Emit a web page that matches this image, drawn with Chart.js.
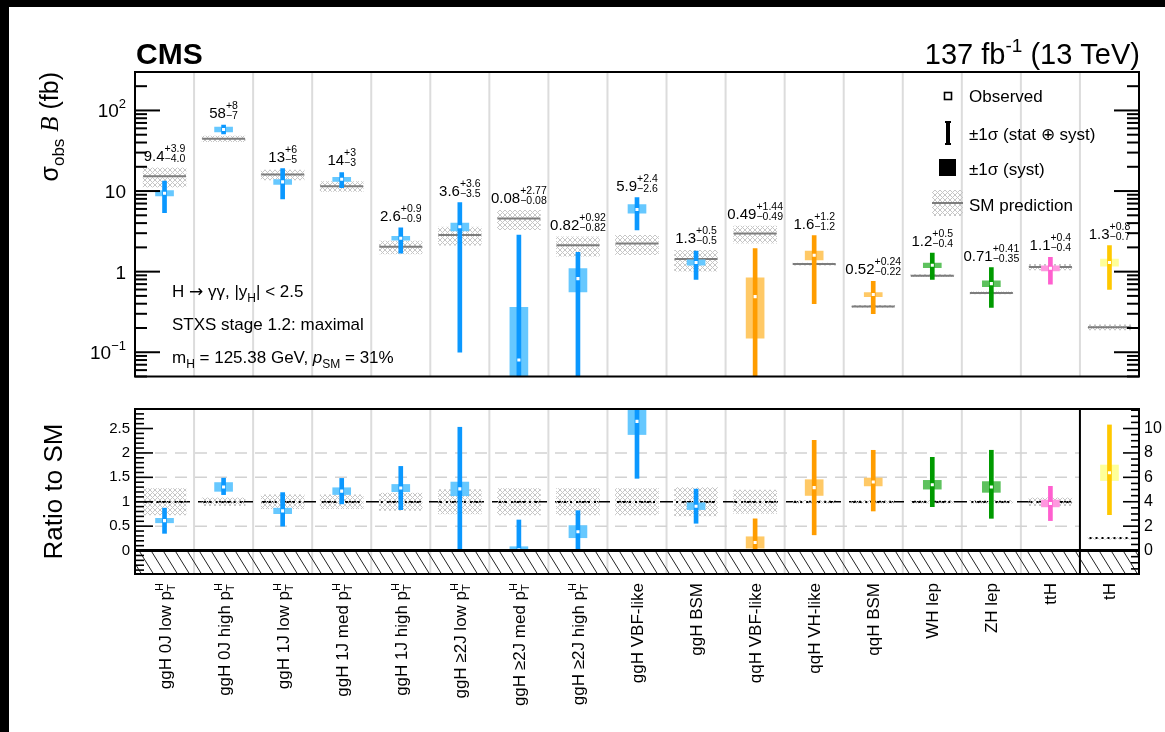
<!DOCTYPE html>
<html>
<head>
<meta charset="utf-8">
<title>H→γγ STXS stage 1.2 cross sections</title>
<script src="https://cdn.jsdelivr.net/npm/chart.js@4.4.1/dist/chart.umd.min.js"></script>
<style>
  html, body { margin: 0; padding: 0; width: 1165px; height: 732px; overflow: hidden; background: #000; }
  #sheet { position: absolute; left: 9px; top: 7px; right: 0; bottom: 0; background: #fff; }
  canvas { position: absolute; left: 0; }
  #xsec { top: 0; }
  #ratio { top: 360px; }
</style>
</head>
<body>
<div id="sheet"></div>
<canvas id="xsec" width="1165" height="400"></canvas>
<canvas id="ratio" width="1165" height="372"></canvas>
<script>
// ---- measured bins -------------------------------------------------------
const categories = [
  'ggH 0J low p_T^H', 'ggH 0J high p_T^H', 'ggH 1J low p_T^H', 'ggH 1J med p_T^H',
  'ggH 1J high p_T^H', 'ggH ≥2J low p_T^H', 'ggH ≥2J med p_T^H', 'ggH ≥2J high p_T^H',
  'ggH VBF-like', 'ggH BSM', 'qqH VBF-like', 'qqH VH-like', 'qqH BSM',
  'WH lep', 'ZH lep', 'ttH', 'tH'
];
const production = ['ggH', 'ggH', 'ggH', 'ggH', 'ggH', 'ggH', 'ggH', 'ggH', 'ggH', 'ggH',
                    'qqH', 'qqH', 'qqH', 'VH', 'VH', 'ttH', 'tH'];
// observed sigma x B (fb) with total and systematic uncertainties
const observed  = [9.4, 58, 13, 14, 2.6, 3.6, 0.08, 0.82, 5.9, 1.3, 0.49, 1.6, 0.52, 1.2, 0.71, 1.1, 1.3];
const totalUp   = [3.9, 8, 6, 3, 0.9, 3.6, 2.77, 0.92, 2.4, 0.5, 1.44, 1.2, 0.24, 0.5, 0.41, 0.4, 0.8];
const totalDown = [4.0, 7, 5, 3, 0.9, 3.5, 0.08, 0.82, 2.6, 0.5, 0.49, 1.2, 0.22, 0.4, 0.35, 0.4, 0.7];
const systUp    = [0.7, 4, 0.9, 0.8, 0.15, 0.4, 0.28, 0.27, 0.9, 0.1, 0.35, 0.2, 0.03, 0.08, 0.06, 0.08, 0.13];
const systDown  = [0.7, 4, 0.9, 0.8, 0.15, 0.4, 0.08, 0.26, 0.6, 0.1, 0.34, 0.2, 0.03, 0.08, 0.06, 0.08, 0.13];
// standard model prediction (fb) and its relative uncertainty
const smPrediction = [15.3, 44.5, 16.0, 11.5, 2.03, 2.85, 4.55, 2.13, 2.23, 1.43, 2.97, 1.24, 0.37, 0.89, 0.545, 1.14, 0.204];
const smRelUnc     = [0.27, 0.08, 0.14, 0.14, 0.18, 0.25, 0.27, 0.27, 0.27, 0.29, 0.24, 0.03, 0.03, 0.03, 0.03, 0.08, 0.07];
// decimals printed in the value labels
const labelDigits = [1, 0, 0, 0, 1, 1, 2, 2, 1, 1, 2, 1, 2, 1, 2, 1, 1];
// axis ticks
const decadeTicks = [0.1, 1, 10, 100];
const ratioTicks = [0, 0.5, 1, 1.5, 2, 2.5];
const ownScaleTicks = [0, 2, 4, 6, 8, 10];
const ratioGridLines = [0.5, 1.5, 2];
// bin shown against its own ratio scale
const ownRatioScale = 'tH';

// ---- style ---------------------------------------------------------------
const SANS = '"Liberation Sans", Arial, Helvetica, sans-serif';
const SERIF = '"Liberation Serif", "Times New Roman", serif';
const font = (size, style) => (style ? style + ' ' : '') + size + 'px ' + SANS;
const palette = {
  ggH: { total: '#0b98ff', syst: '#66c8ff' },
  qqH: { total: '#ff9d00', syst: '#ffc966' },
  VH:  { total: '#009a00', syst: '#5ec25e' },
  ttH: { total: '#ff5fcf', syst: '#ff97df' },
  tH:  { total: '#ffc800', syst: '#ffff99' }
};
const SEP_COLOR = '#dcdcdc';

function makeHatch() {
  const c = document.createElement('canvas');
  c.width = 5; c.height = 5;
  const g = c.getContext('2d');
  g.strokeStyle = '#c6c6c6'; g.lineWidth = 1;
  g.beginPath(); g.moveTo(0, 0); g.lineTo(5, 5); g.moveTo(5, 0); g.lineTo(0, 5); g.stroke();
  return document.createElement('canvas').getContext('2d').createPattern(c, 'repeat');
}
const hatch = makeHatch();

function dottedLine(width) {
  const c = document.createElement('canvas');
  c.width = width; c.height = 2;
  const g = c.getContext('2d');
  g.fillStyle = '#000';
  for (let x = 2; x < width - 1; x += 6) g.fillRect(x, 0, 2, 2);
  return c;
}
const smDots = dottedLine(44);

// ---- rich text helpers ---------------------------------------------------
function runWidth(ctx, r) {
  if (r.stack) return Math.max(...r.stack.map(s => { ctx.font = s.font; return ctx.measureText(s.text).width; }));
  ctx.font = r.font;
  return ctx.measureText(r.text).width;
}
function drawRuns(ctx, runs, x, y, align) {
  const total = runs.reduce((a, r) => a + runWidth(ctx, r), 0);
  let cx = align === 'center' ? x - total / 2 : align === 'right' ? x - total : x;
  ctx.textAlign = 'left';
  ctx.textBaseline = 'alphabetic';
  runs.forEach(r => {
    const w = runWidth(ctx, r);
    (r.stack || [r]).forEach(p => { ctx.font = p.font; ctx.fillText(p.text, cx, y + (p.dy || 0)); });
    cx += w;
  });
  return total;
}
function binEdge(chart, k) {
  const xs = chart.scales.x, a = chart.chartArea, n = categories.length;
  if (k <= 0) return a.left;
  if (k >= n) return a.right;
  return (xs.getPixelForValue(k - 1) + xs.getPixelForValue(k)) / 2;
}
function drawSeparators(chart, ownIdx) {
  const ctx = chart.ctx, a = chart.chartArea;
  ctx.save();
  ctx.strokeStyle = SEP_COLOR; ctx.lineWidth = 2;
  for (let k = 1; k < categories.length; k++) {
    if (k === ownIdx) continue;
    const x = binEdge(chart, k);
    ctx.beginPath(); ctx.moveTo(x, a.top); ctx.lineTo(x, a.bottom); ctx.stroke();
  }
  ctx.restore();
}
function drawFrame(chart) {
  const ctx = chart.ctx, a = chart.chartArea;
  ctx.save();
  ctx.strokeStyle = '#000'; ctx.lineWidth = 2;
  ctx.strokeRect(a.left, a.top, a.right - a.left, a.bottom - a.top);
  ctx.restore();
}
function hTick(ctx, x, y, len) {
  ctx.beginPath(); ctx.moveTo(x, y); ctx.lineTo(x + len, y); ctx.stroke();
}

// ---- upper panel: cross sections ----------------------------------------
const clampLog = v => Math.max(v, 1e-3);
const upperDecor = {
  id: 'upperDecor',
  beforeDatasetsDraw(chart) { drawSeparators(chart, -1); },
  afterDatasetsDraw(chart) {
    const ctx = chart.ctx, a = chart.chartArea, ys = chart.scales.y, xs = chart.scales.x;
    drawFrame(chart);
    // log ticks on both sides
    ctx.save();
    ctx.strokeStyle = '#000'; ctx.lineWidth = 2;
    const lo = ys.min, hi = ys.max;
    for (let e = Math.floor(Math.log10(lo)); e <= Math.ceil(Math.log10(hi)); e++) {
      for (let m = 1; m <= 9; m++) {
        const v = m * Math.pow(10, e);
        if (v < lo * 0.999 || v > hi * 1.001) continue;
        const y = ys.getPixelForValue(v);
        const len = m === 1 ? 25 : 12;
        hTick(ctx, a.left, y, len);
        hTick(ctx, a.right, y, -len);
      }
    }
    ctx.restore();
    // decade labels
    ctx.save();
    ctx.fillStyle = '#000';
    decadeTicks.forEach(v => {
      const e = Math.round(Math.log10(v));
      const y = ys.getPixelForValue(v) + 7;
      const runs = e === 0 ? [{ text: '1', font: font(19) }]
                 : e === 1 ? [{ text: '10', font: font(19) }]
                 : [{ text: '10', font: font(19) }, { text: e < 0 ? '−' + (-e) : String(e), font: font(13), dy: -9 }];
      drawRuns(ctx, runs, a.left - 9, y, 'right');
    });
    ctx.restore();
    // value labels
    ctx.save();
    ctx.fillStyle = '#000';
    categories.forEach((_, i) => {
      const top = Math.max(observed[i] + totalUp[i], smPrediction[i] * (1 + smRelUnc[i]));
      const y = ys.getPixelForValue(top) - 7;
      const d = labelDigits[i];
      drawRuns(ctx, [
        { text: observed[i].toFixed(d), font: font(15) },
        { stack: [
          { text: '+' + totalUp[i].toFixed(d), font: font(10.5), dy: -9 },
          { text: '−' + totalDown[i].toFixed(d), font: font(10.5), dy: 1 }
        ] }
      ], xs.getPixelForValue(i), y, 'center');
    });
    ctx.restore();
  },
  afterDraw(chart) {
    const ctx = chart.ctx, a = chart.chartArea;
    ctx.save();
    ctx.fillStyle = '#000';
    // header
    ctx.font = font(30, 'bold');
    ctx.textAlign = 'left'; ctx.textBaseline = 'alphabetic';
    ctx.fillText('CMS', a.left + 1, 64);
    drawRuns(ctx, [
      { text: '137 fb', font: font(29) },
      { text: '-1', font: font(19), dy: -12 },
      { text: ' (13 TeV)', font: font(29) }
    ], a.right + 1, 64, 'right');
    // analysis description
    drawRuns(ctx, [
      { text: 'H ', font: font(17) }, { text: '→', font: '17px "DejaVu Sans", sans-serif' },
      { text: ' γγ, |y', font: font(17) }, { text: 'H', font: font(12), dy: 5 },
      { text: '| < 2.5', font: font(17) }
    ], 172, 297, 'left');
    drawRuns(ctx, [{ text: 'STXS stage 1.2: maximal', font: font(17) }], 172, 330, 'left');
    drawRuns(ctx, [
      { text: 'm', font: font(17) }, { text: 'H', font: font(12), dy: 5 },
      { text: ' = 125.38 GeV, ', font: font(17) }, { text: 'p', font: font(17, 'italic') },
      { text: 'SM', font: font(12), dy: 5 }, { text: ' = 31%', font: font(17) }
    ], 172, 363, 'left');
    // y title
    ctx.save();
    ctx.translate(58, a.top);
    ctx.rotate(-Math.PI / 2);
    drawRuns(ctx, [
      { text: 'σ', font: font(25) }, { text: 'obs', font: font(17), dy: 6 },
      { text: ' ', font: font(25) }, { text: 'B', font: 'italic 25px ' + SERIF },
      { text: ' (fb)', font: font(25) }
    ], 0, 0, 'right');
    ctx.restore();
    // legend
    const lx = 948, tx = 969;
    ctx.lineWidth = 1.6; ctx.strokeStyle = '#000';
    ctx.fillStyle = '#fff'; ctx.fillRect(lx - 3.5, 92.5, 7, 7);
    ctx.strokeRect(lx - 3.5, 92.5, 7, 7);
    ctx.fillStyle = '#000';
    ctx.fillRect(lx - 2, 122, 4, 23);
    ctx.fillRect(lx - 3, 121, 6, 2); ctx.fillRect(lx - 3, 143, 6, 2);
    ctx.fillRect(lx - 9, 159, 17, 17);
    ctx.fillStyle = hatch; ctx.fillRect(lx - 16, 190, 31, 26);
    ctx.strokeStyle = '#7d7d7d'; ctx.lineWidth = 2;
    ctx.beginPath(); ctx.moveTo(lx - 16, 203); ctx.lineTo(lx + 15, 203); ctx.stroke();
    ctx.fillStyle = '#000';
    drawRuns(ctx, [{ text: 'Observed', font: font(17) }], tx, 102, 'left');
    drawRuns(ctx, [{ text: '±1σ (stat ⊕ syst)', font: font(17) }], tx, 140, 'left');
    drawRuns(ctx, [{ text: '±1σ (syst)', font: font(17) }], tx, 175, 'left');
    drawRuns(ctx, [{ text: 'SM prediction', font: font(17) }], tx, 211, 'left');
    ctx.restore();
  }
};

const boxColor = production.map(p => palette[p].syst);
const barColor = production.map(p => palette[p].total);

new Chart(document.getElementById('xsec'), {
  type: 'bar',
  data: {
    labels: categories,
    datasets: [
      { type: 'bar', order: 5, grouped: false, barThickness: 43, backgroundColor: hatch,
        data: categories.map((_, i) => [smPrediction[i] * (1 - smRelUnc[i]), smPrediction[i] * (1 + smRelUnc[i])]) },
      { type: 'line', order: 4, showLine: false, pointStyle: 'line', pointRadius: 21.5, pointHoverRadius: 21.5,
        pointBorderColor: '#7d7d7d', pointBorderWidth: 2, data: smPrediction },
      { type: 'bar', order: 3, grouped: false, barThickness: 18, backgroundColor: boxColor,
        data: categories.map((_, i) => [clampLog(observed[i] - systDown[i]), observed[i] + systUp[i]]) },
      { type: 'bar', order: 2, grouped: false, barThickness: 4, backgroundColor: barColor,
        data: categories.map((_, i) => [clampLog(observed[i] - totalDown[i]), observed[i] + totalUp[i]]) },
      { type: 'line', order: 1, showLine: false, pointStyle: 'rect', pointRadius: 2.2, pointHoverRadius: 2.2,
        pointBackgroundColor: '#fff', pointBorderWidth: 0, data: observed }
    ]
  },
  options: {
    responsive: false, animation: false, devicePixelRatio: 1,
    events: [],
    layout: { padding: { left: 135, right: 26, top: 72, bottom: 3 } },
    plugins: { legend: { display: false }, tooltip: { enabled: false } },
    scales: {
      x: { type: 'category', display: false, offset: true },
      y: { type: 'logarithmic', display: false, min: 0.05, max: 300, bounds: 'data' }
    }
  },
  plugins: [upperDecor]
});

// ---- lower panel: ratio to SM --------------------------------------------
const ownIdx = production.indexOf(ownRatioScale);
function ratioDatasets(axis) {
  const keep = i => (axis === 'y2') === (production[i] === ownRatioScale);
  const pick = f => categories.map((_, i) => keep(i) ? f(i) : null);
  return [
    { type: 'bar', yAxisID: axis, order: 5, grouped: false, barThickness: 43, backgroundColor: hatch,
      data: pick(i => [1 - smRelUnc[i], 1 + smRelUnc[i]]) },
    { type: 'line', yAxisID: axis, order: 4, showLine: false, pointStyle: smDots, pointRadius: 3,
      data: pick(() => 1) },
    { type: 'bar', yAxisID: axis, order: 3, grouped: false, barThickness: 18, backgroundColor: boxColor,
      data: pick(i => [(observed[i] - systDown[i]) / smPrediction[i], (observed[i] + systUp[i]) / smPrediction[i]]) },
    { type: 'bar', yAxisID: axis, order: 2, grouped: false, barThickness: 4, backgroundColor: barColor,
      data: pick(i => [(observed[i] - totalDown[i]) / smPrediction[i], (observed[i] + totalUp[i]) / smPrediction[i]]) },
    { type: 'line', yAxisID: axis, order: 1, showLine: false, pointStyle: 'rect', pointRadius: 2.2, pointHoverRadius: 2.2,
      pointBackgroundColor: '#fff', pointBorderWidth: 0, data: pick(i => observed[i] / smPrediction[i]) }
  ];
}

const lowerDecor = {
  id: 'lowerDecor',
  beforeDatasetsDraw(chart) {
    const ctx = chart.ctx, a = chart.chartArea, ys = chart.scales.y;
    drawSeparators(chart, ownIdx);
    const xEnd = binEdge(chart, ownIdx);
    ctx.save();
    // reference lines
    ctx.strokeStyle = '#d2d2d2'; ctx.lineWidth = 1.5; ctx.setLineDash([12, 8]);
    ratioGridLines.forEach(v => {
      const y = ys.getPixelForValue(v);
      ctx.beginPath(); ctx.moveTo(a.left, y); ctx.lineTo(xEnd, y); ctx.stroke();
    });
    ctx.strokeStyle = '#000'; ctx.setLineDash([13, 8]);
    const y1 = ys.getPixelForValue(1);
    ctx.beginPath(); ctx.moveTo(a.left, y1); ctx.lineTo(xEnd, y1); ctx.stroke();
    ctx.setLineDash([]);
    // unphysical region below zero
    const y0 = ys.getPixelForValue(0);
    ctx.beginPath(); ctx.rect(a.left, y0, a.right - a.left, a.bottom - y0); ctx.clip();
    ctx.strokeStyle = '#222'; ctx.lineWidth = 1;
    const h = a.bottom - y0;
    for (let x = a.left - 20; x < a.right + 5; x += 12) {
      ctx.beginPath(); ctx.moveTo(x, y0); ctx.lineTo(x + h * 0.62, a.bottom); ctx.stroke();
    }
    ctx.restore();
  },
  afterDatasetsDraw(chart) {
    const ctx = chart.ctx, a = chart.chartArea, ys = chart.scales.y, y2 = chart.scales.y2;
    ctx.save();
    ctx.strokeStyle = '#000';
    // own-scale bin divider
    const xs16 = binEdge(chart, ownIdx);
    ctx.lineWidth = 2;
    ctx.beginPath(); ctx.moveTo(xs16, a.top); ctx.lineTo(xs16, a.bottom); ctx.stroke();
    // zero line
    const y0 = ys.getPixelForValue(0);
    ctx.lineWidth = 3;
    ctx.beginPath(); ctx.moveTo(a.left, y0); ctx.lineTo(a.right, y0); ctx.stroke();
    // ticks, left scale
    ctx.lineWidth = 1.6;
    for (let k = Math.ceil(ys.min * 10); k <= Math.floor(ys.max * 10); k++) {
      hTick(ctx, a.left, ys.getPixelForValue(k / 10), k % 5 === 0 ? 18 : 9);
    }
    // ticks, right scale
    for (let k = Math.ceil(y2.min * 2); k <= Math.floor(y2.max * 2); k++) {
      hTick(ctx, a.right, y2.getPixelForValue(k / 2), k % 4 === 0 ? -16 : -8);
    }
    ctx.restore();
    drawFrame(chart);
  },
  afterDraw(chart) {
    const ctx = chart.ctx, a = chart.chartArea, xs = chart.scales.x;
    ctx.save();
    ctx.fillStyle = '#000';
    // bin labels, rotated
    categories.forEach((label, i) => {
      const pt = /p_T\^H$/.test(label);
      const base = label.replace(/p_T\^H$/, 'p');
      const runs = [{ text: base, font: font(17) }];
      if (pt) runs.push({ stack: [{ text: 'H', font: font(11), dy: -8 }, { text: 'T', font: font(11), dy: 4 }] });
      ctx.save();
      ctx.translate(xs.getPixelForValue(i) + 6, a.bottom + 9);
      ctx.rotate(-Math.PI / 2);
      drawRuns(ctx, runs, 0, 0, 'right');
      ctx.restore();
    });
    // y title
    ctx.save();
    ctx.translate(62, (a.top + a.bottom) / 2);
    ctx.rotate(-Math.PI / 2);
    drawRuns(ctx, [{ text: 'Ratio to SM', font: font(26) }], 0, 0, 'center');
    ctx.restore();
    ctx.restore();
  }
};

const axisCommon = {
  type: 'linear', bounds: 'data',
  grid: { display: false, drawTicks: false }, border: { display: false }
};
new Chart(document.getElementById('ratio'), {
  type: 'bar',
  data: { labels: categories, datasets: [...ratioDatasets('y'), ...ratioDatasets('y2')] },
  options: {
    responsive: false, animation: false, devicePixelRatio: 1,
    events: [],
    layout: { padding: { left: 0, right: 0, top: 49, bottom: 158 } },
    plugins: { legend: { display: false }, tooltip: { enabled: false } },
    scales: {
      x: { type: 'category', display: false, offset: true },
      y: { ...axisCommon, position: 'left', min: -0.48, max: 2.9,
           afterBuildTicks(s) { s.ticks = ratioTicks.map(v => ({ value: v })); },
           ticks: { padding: 5, color: '#000', font: { family: SANS, size: 15 }, callback: v => String(v) },
           afterFit(s) { s.width = 135; } },
      y2: { ...axisCommon, position: 'right', min: -1.92, max: 11.6,
            afterBuildTicks(s) { s.ticks = ownScaleTicks.map(v => ({ value: v })); },
            ticks: { padding: 5, color: '#000', font: { family: SANS, size: 16 }, callback: v => String(v) },
            afterFit(s) { s.width = 26; } }
    }
  },
  plugins: [lowerDecor]
});
</script>
</body>
</html>
